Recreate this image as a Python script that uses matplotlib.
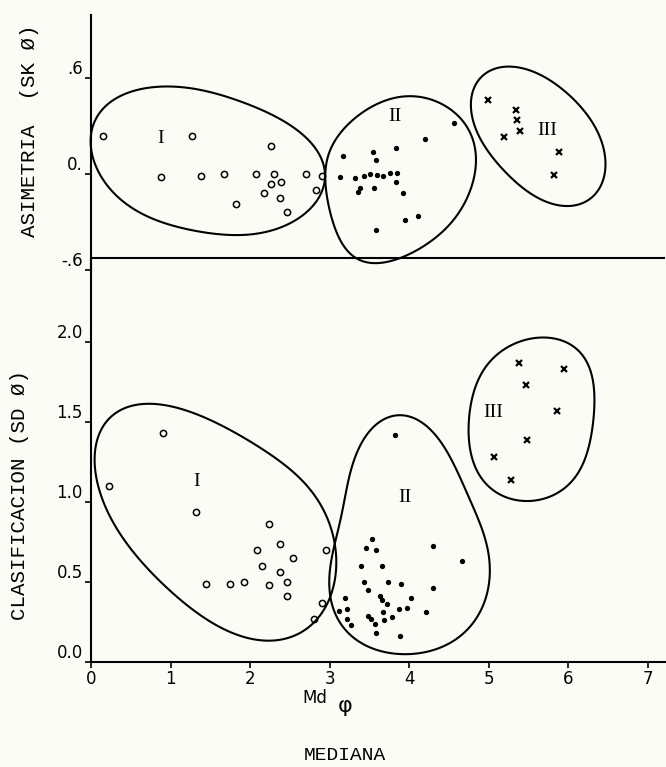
import numpy as np
import matplotlib
matplotlib.use("Agg")
import matplotlib.pyplot as plt
from matplotlib.patches import Polygon

# --- data (x = Md phi) ---
# upper panel: asimetria (SK phi)
top_I_x = [0.15, 1.27, 2.26, 0.88, 1.38, 1.67, 2.07, 2.30, 2.39, 2.27, 2.17, 2.38, 1.82, 2.47, 2.70, 2.83, 2.90]
top_I_y = [0.24, 0.24, 0.175, -0.02, -0.01, 0.0, 0.0, 0.0, -0.05, -0.06, -0.12, -0.15, -0.19, -0.24, 0.0, -0.10, -0.01]

top_II_x = [4.57, 4.20, 3.84, 3.17, 3.55, 3.58, 3.13, 3.32, 3.43, 3.51, 3.60, 3.67, 3.76, 3.85,
            3.38, 3.36, 3.56, 3.84, 3.92, 4.11, 3.95, 3.59]
top_II_y = [0.32, 0.22, 0.16, 0.11, 0.14, 0.09, -0.02, -0.025, -0.01, 0.0, -0.005, -0.01, 0.005, 0.005,
            -0.09, -0.11, -0.09, -0.05, -0.12, -0.26, -0.29, -0.35]

top_III_x = [4.99, 5.35, 5.36, 5.39, 5.19, 5.89, 5.83]
top_III_y = [0.46, 0.40, 0.34, 0.27, 0.23, 0.14, -0.005]

# lower panel: clasificacion (SD phi)
bot_I_x = [0.23, 0.91, 1.32, 2.24, 2.38, 2.09, 2.54, 2.15, 2.38, 1.45, 1.75, 1.92, 2.24, 2.47, 2.47, 2.96, 2.91, 2.80]
bot_I_y = [1.10, 1.43, 0.94, 0.86, 0.74, 0.70, 0.65, 0.60, 0.56, 0.49, 0.49, 0.50, 0.48, 0.50, 0.41, 0.70, 0.37, 0.27]

bot_II_x = [3.82, 3.53, 3.46, 3.59, 4.30, 4.67, 3.40, 3.66, 3.44, 3.74, 3.90, 3.48, 4.30, 3.20, 3.66, 3.72,
            4.03, 3.97, 3.87, 3.22, 3.12, 3.67, 3.49, 4.22, 3.22, 3.52, 3.79, 3.68, 3.57, 3.27, 3.58, 3.89, 3.64]
bot_II_y = [1.42, 0.77, 0.71, 0.70, 0.725, 0.63, 0.60, 0.60, 0.50, 0.50, 0.49, 0.45, 0.46, 0.40, 0.39, 0.36,
            0.40, 0.335, 0.33, 0.33, 0.32, 0.31, 0.29, 0.31, 0.27, 0.27, 0.28, 0.26, 0.24, 0.23, 0.18, 0.16, 0.41]

bot_III_x = [5.38, 5.95, 5.47, 5.86, 5.48, 5.07, 5.28]
bot_III_y = [1.87, 1.83, 1.73, 1.57, 1.39, 1.28, 1.14]

# hand drawn group boundaries (vertices of closed curves)
top_I_out_x = [-0.01, 0.11, 0.74, 1.27, 2.04, 2.63, 2.96, 2.88, 2.54, 1.87, 1.21, 0.53, 0.08]
top_I_out_y = [0.20, 0.40, 0.525, 0.545, 0.42, 0.255, 0.005, -0.145, -0.29, -0.38, -0.35, -0.21, 0.03]
top_II_out_x = [2.94, 3.04, 3.30, 3.64, 4.04, 4.39, 4.64, 4.82, 4.83, 4.77, 4.60, 4.33, 4.01, 3.51, 3.26, 3.07, 2.98]
top_II_out_y = [0.005, 0.19, 0.34, 0.44, 0.49, 0.45, 0.34, 0.21, 0.09, -0.10, -0.27, -0.40, -0.49, -0.56, -0.51, -0.32, -0.16]
top_III_out_x = [4.98, 4.79, 4.89, 5.27, 5.65, 6.02, 6.36, 6.46, 6.31, 5.90, 5.27]
top_III_out_y = [0.65, 0.48, 0.23, -0.02, -0.15, -0.205, -0.12, 0.09, 0.32, 0.545, 0.66]

bot_I_out_x = [0.05, 0.11, 0.30, 0.55, 1.16, 1.87, 2.50, 2.88, 3.09, 3.04, 2.92, 2.72, 2.38, 1.96, 1.33, 0.70, 0.24]
bot_I_out_y = [1.20, 1.45, 1.59, 1.61, 1.54, 1.43, 1.22, 0.97, 0.76, 0.575, 0.34, 0.20, 0.13, 0.15, 0.31, 0.59, 0.93]
bot_II_out_x = [3.95, 3.64, 3.42, 3.22, 3.09, 3.01, 3.03, 3.26, 3.60, 3.89, 4.39, 4.77, 4.98, 4.99, 4.89, 4.68, 4.43, 4.18]
bot_II_out_y = [1.56, 1.51, 1.37, 1.075, 0.81, 0.53, 0.34, 0.18, 0.075, 0.045, 0.09, 0.22, 0.43, 0.66, 0.89, 1.12, 1.325, 1.49]
bot_III_out_x = [5.69, 5.23, 4.93, 4.77, 4.77, 4.89, 5.23, 5.56, 5.94, 6.19, 6.31, 6.31, 6.19, 5.94]
bot_III_out_y = [2.02, 1.96, 1.825, 1.60, 1.35, 1.16, 1.03, 1.01, 1.075, 1.24, 1.49, 1.74, 1.93, 2.01]

x_ticks = [0, 1, 2, 3, 4, 5, 6, 7]
top_ticks = [-0.6, 0.0, 0.6]
top_tick_labels = ["-.6", "0.", ".6"]
bot_ticks = [0.0, 0.5, 1.0, 1.5, 2.0]
bot_tick_labels = ["0.0", "0.5", "1.0", "1.5", "2.0"]

PAPER = "#fcfcf7"
MONO = "Liberation Mono"


def closed_curve(xs, ys, harmonics=3, n=400):
    # smooth closed curve: low order fourier fit over chord-length parameter
    p = np.column_stack([xs, ys])
    q = p * np.array([79.5, 160.0])  # roughly screen proportions
    seg = np.hypot(*np.diff(np.vstack([q, q[:1]]), axis=0).T)
    t = np.concatenate([[0], np.cumsum(seg)[:-1]]) / seg.sum() * 2 * np.pi

    def basis(tt):
        cols = [np.ones_like(tt)]
        for k in range(1, harmonics + 1):
            cols += [np.cos(k * tt), np.sin(k * tt)]
        return np.column_stack(cols)

    coef, *_ = np.linalg.lstsq(basis(t), p, rcond=None)
    tt = np.linspace(0, 2 * np.pi, n, endpoint=False)
    return basis(tt) @ coef


def outline(ax, xs, ys, harmonics=3):
    pts = closed_curve(xs, ys, harmonics)
    ax.add_patch(Polygon(pts, closed=True, fill=False, edgecolor="black", lw=1.5,
                         joinstyle="round", clip_on=False, zorder=2))


def style_axis(ax):
    for s in ["top", "right"]:
        ax.spines[s].set_visible(False)
    ax.spines["left"].set_linewidth(1.5)
    ax.spines["bottom"].set_linewidth(1.5)
    ax.set_facecolor("none")
    ax.tick_params(direction="out", length=4, width=1.2, labelsize=12, pad=2)


fig = plt.figure(figsize=(6.66, 7.67), dpi=100, facecolor=PAPER)

W, H = 666.0, 767.0
left = 91 / W
width = (665 - 91) / W
ax_top = fig.add_axes([left, (H - 270) / H, width, (270 - 15) / H])
ax_bot = fig.add_axes([left, (H - 662) / H, width, (662 - 258) / H])

# ---------------- upper panel ----------------
style_axis(ax_top)
ax_top.spines["bottom"].set_visible(False)
ax_top.set_xlim(0, 7.22)
ax_top.set_ylim(-0.6, 0.994)
ax_top.set_xticks([])
ax_top.set_yticks(top_ticks)
ax_top.set_yticklabels(top_tick_labels)
for lab in ax_top.get_yticklabels():
    lab.set_va("bottom")
ax_top.axhline(-0.525, color="black", lw=1.5, zorder=1)

outline(ax_top, top_I_out_x, top_I_out_y, 4)
outline(ax_top, top_II_out_x, top_II_out_y, 4)
outline(ax_top, top_III_out_x, top_III_out_y, 3)
ax_top.plot(top_I_x, top_I_y, "o", ms=4.5, mfc="none", mec="black", mew=1.1, zorder=3)
ax_top.plot(top_II_x, top_II_y, "o", ms=2.8, color="black", zorder=3)
ax_top.plot(top_III_x, top_III_y, "x", ms=5, mec="black", mew=1.6, zorder=3)
ax_top.text(0.87, 0.225, "I", family="Liberation Serif", fontsize=14, ha="center", va="center")
ax_top.text(3.82, 0.36, "II", family="Liberation Serif", fontsize=14, ha="center", va="center")
ax_top.text(5.74, 0.27, "III", family="Liberation Serif", fontsize=14, ha="center", va="center")

# ---------------- lower panel ----------------
style_axis(ax_bot)
ax_bot.set_xlim(0, 7.22)
ax_bot.set_ylim(0, 2.525)
ax_bot.set_xticks(x_ticks)
ax_bot.set_xticklabels([str(v) for v in x_ticks])
ax_bot.set_yticks(bot_ticks)
ax_bot.set_yticklabels(bot_tick_labels)
for lab in ax_bot.get_yticklabels():
    lab.set_va("bottom")

outline(ax_bot, bot_I_out_x, bot_I_out_y, 3)
outline(ax_bot, bot_II_out_x, bot_II_out_y, 4)
outline(ax_bot, bot_III_out_x, bot_III_out_y, 3)
ax_bot.plot(bot_I_x, bot_I_y, "o", ms=4.5, mfc="none", mec="black", mew=1.1, zorder=3)
ax_bot.plot(bot_II_x, bot_II_y, "o", ms=2.8, color="black", zorder=3)
ax_bot.plot(bot_III_x, bot_III_y, "x", ms=5, mec="black", mew=1.6, zorder=3)
ax_bot.text(1.33, 1.13, "I", family="Liberation Serif", fontsize=14, ha="center", va="center")
ax_bot.text(3.95, 1.03, "II", family="Liberation Serif", fontsize=14, ha="center", va="center")
ax_bot.text(5.06, 1.56, "III", family="Liberation Serif", fontsize=14, ha="center", va="center")

# ---------------- axis titles ----------------
fig.text(30 / W, 1 - 131 / H, "ASIMETRIA  (SK Ø)", family=MONO, fontsize=15,
         rotation=90, ha="center", va="center")
fig.text(20 / W, 1 - 495 / H, "CLASIFICACION (SD Ø)", family=MONO, fontsize=15,
         rotation=90, ha="center", va="center")
fig.text(315 / W, 1 - 698 / H, "Md", fontsize=12, ha="center", va="center")
fig.text(345 / W, 1 - 706 / H, "φ", fontsize=16, ha="center", va="center")
fig.text(345 / W, 1 - 755 / H, "MEDIANA", family=MONO, fontsize=14, ha="center", va="center")

fig.savefig("out.png", dpi=100, facecolor=PAPER)
